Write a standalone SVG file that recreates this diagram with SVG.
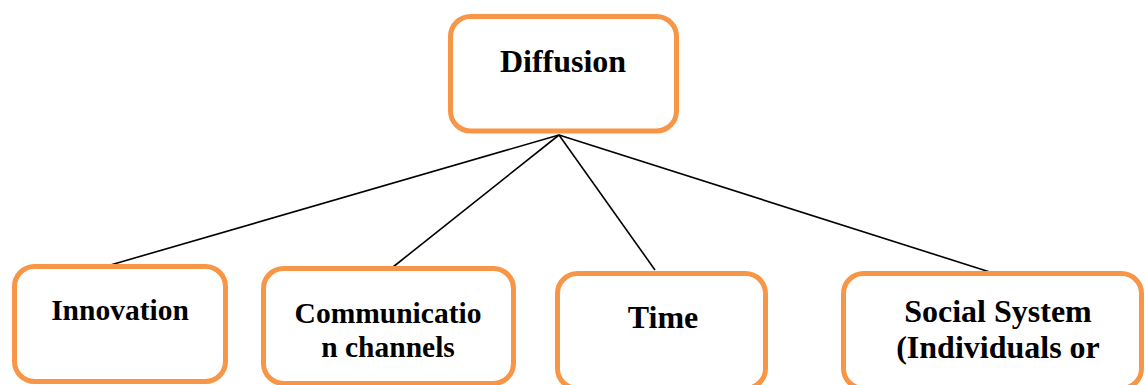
<svg xmlns="http://www.w3.org/2000/svg" width="1145" height="385" viewBox="0 0 1145 385">
  <style>
    .box { fill: #ffffff; stroke: #f79646; stroke-width: 5; }
    .lbl { font-family: "Liberation Serif", "Times New Roman", serif; font-weight: bold; font-size: 32px; fill: #000000; text-anchor: middle; }
    .sm { font-size: 29.5px; }
    .link { stroke: #000000; stroke-width: 1.6; fill: none; }
  </style>
  <rect width="1145" height="385" fill="#ffffff"/>

  <!-- connectors from the root to each child -->
  <g id="connectors">
    <line class="link" x1="559" y1="135" x2="107" y2="266"/>
    <line class="link" x1="559" y1="135" x2="393" y2="267"/>
    <line class="link" x1="559" y1="135" x2="655" y2="270"/>
    <line class="link" x1="559" y1="135" x2="993" y2="273"/>
  </g>

  <g id="node-diffusion">
    <rect class="box" x="450.5" y="16.5" width="226" height="114.5" rx="20"/>
    <text class="lbl" x="563" y="72">Diffusion</text>
  </g>

  <g id="node-innovation">
    <rect class="box" x="14.5" y="266.5" width="211" height="115" rx="20"/>
    <text class="lbl sm" x="120" y="320">Innovation</text>
  </g>

  <g id="node-communication">
    <rect class="box" x="263.5" y="268.5" width="250" height="115" rx="20"/>
    <text class="lbl sm" x="388" y="323">Communicatio</text>
    <text class="lbl sm" x="388" y="357">n channels</text>
  </g>

  <g id="node-time">
    <rect class="box" x="557.5" y="273.5" width="208" height="115" rx="20"/>
    <text class="lbl" x="663" y="328">Time</text>
  </g>

  <g id="node-social">
    <rect class="box" x="843.5" y="273.5" width="298" height="115" rx="20"/>
    <text class="lbl" x="998" y="322">Social System</text>
    <text class="lbl" x="998" y="358">(Individuals or</text>
  </g>
</svg>
